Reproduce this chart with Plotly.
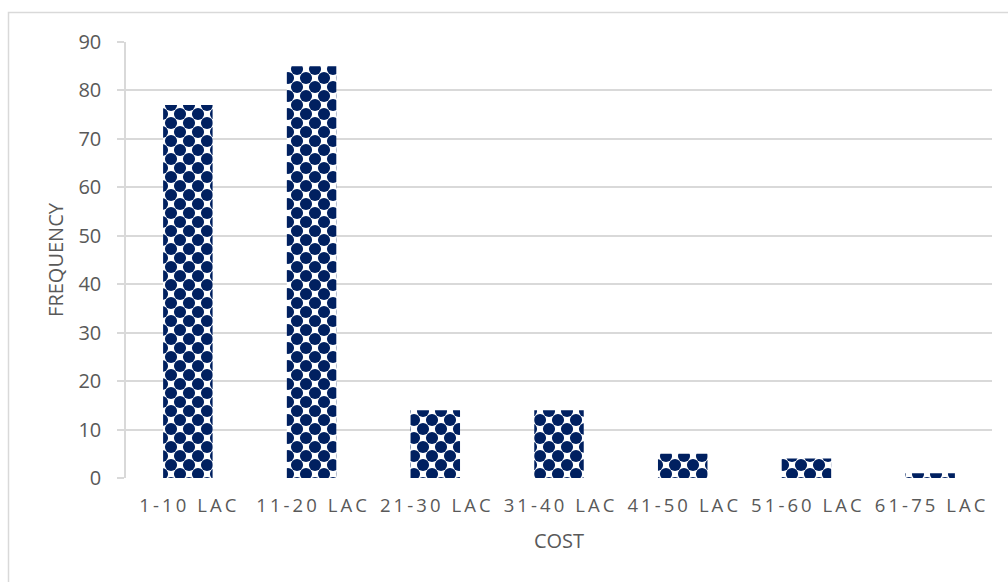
import plotly.graph_objects as go

# Data: number of projects per cost band
cost_bands = ["1-10 LAC", "11-20 LAC", "21-30 LAC", "31-40 LAC", "41-50 LAC", "51-60 LAC", "61-75 LAC"]
frequency = [77, 85, 14, 14, 5, 4, 1]
y_ticks = [0, 10, 20, 30, 40, 50, 60, 70, 80, 90]

NAVY = "#002060"
GRID = "#d9d9d9"
TEXT = "#595959"
FONT = "Open Sans"

W, H = 1008, 582
M_L, M_R, M_T, M_B = 126, 16, 42, 104
plot_w = W - M_L - M_R
plot_h = H - M_T - M_B
n = len(cost_bands)
cat_px = plot_w / n
y_max = 90

TILE = 18            # pattern tile size (px)
HALF = TILE / 2      # offset of the second dot lattice
SOLIDITY = 0.36


def spaced(label):
    """Letter-spaced tick label."""
    return "\u2009".join(label)


fig = go.Figure()

# Base lattice of dots on a white bar
fig.add_trace(go.Bar(
    x=cost_bands, y=frequency, width=0.4, uid="lattice_a",
    marker=dict(
        color="white",
        line=dict(width=0),
        pattern=dict(shape=".", fgcolor=NAVY, bgcolor="white",
                     size=TILE, solidity=SOLIDITY, fillmode="replace"),
    ),
    hoverinfo="skip", showlegend=False,
    xaxis="x", yaxis="y",
))

# Second lattice, offset by half a tile, completes the staggered dot pattern
fig.add_trace(go.Bar(
    x=cost_bands, y=frequency, width=0.4, uid="lattice_b",
    marker=dict(
        color="rgba(0,0,0,0)",
        line=dict(width=0),
        pattern=dict(shape=".", fgcolor=NAVY, bgcolor="rgba(0,0,0,0)",
                     size=TILE, solidity=SOLIDITY, fillmode="replace"),
    ),
    hoverinfo="skip", showlegend=False,
    xaxis="x2", yaxis="y2",
))


def px_to_paper_x(px):
    return (px - M_L) / plot_w


def px_to_paper_y(py):
    return (H - M_B - py) / plot_h


# Chart frame
fig.add_shape(
    type="rect", xref="paper", yref="paper",
    x0=px_to_paper_x(8.5), x1=px_to_paper_x(W + 10),
    y0=px_to_paper_y(H + 10), y1=px_to_paper_y(12.5),
    line=dict(color=GRID, width=1.5), fillcolor="rgba(0,0,0,0)", layer="below",
)

fig.update_layout(
    width=W, height=H,
    margin=dict(l=M_L, r=M_R, t=M_T, b=M_B, pad=0),
    paper_bgcolor="white", plot_bgcolor="rgba(0,0,0,0)",
    font=dict(family=FONT, color=TEXT),
    bargap=0.6,
    xaxis=dict(
        domain=[0, 1], type="category",
        categoryorder="array", categoryarray=cost_bands,
        range=[-0.5, n - 0.5],
        tickmode="array", tickvals=cost_bands,
        ticktext=[spaced(c) for c in cost_bands],
        tickfont=dict(size=18.5, color=TEXT, family=FONT),
        ticks="", showgrid=False, zeroline=False, showline=False,
        ticklabelstandoff=14,
        title=dict(text="COST", font=dict(size=20, color=TEXT, family=FONT), standoff=18),
        automargin=False,
    ),
    yaxis=dict(
        domain=[0, 1], range=[0, y_max],
        tickmode="array", tickvals=y_ticks,
        tickfont=dict(size=20, color=TEXT, family=FONT),
        showgrid=True, gridcolor=GRID, gridwidth=1.5,
        zeroline=False,
        showline=True, linecolor=GRID, linewidth=1.5,
        ticks="outside", ticklen=7, tickcolor=GRID, tickwidth=1.5,
        ticklabelstandoff=12,
        title=dict(text="FREQUENCY", font=dict(size=20, color=TEXT, family=FONT), standoff=9),
        automargin=False,
    ),
    xaxis2=dict(
        domain=[HALF / plot_w, 1], type="category",
        categoryorder="array", categoryarray=cost_bands,
        range=[-0.5 + HALF / cat_px, n - 0.5],
        visible=False, anchor="y2",
    ),
    yaxis2=dict(
        domain=[0, 1 - HALF / plot_h],
        range=[0, y_max * (plot_h - HALF) / plot_h],
        visible=False, anchor="x2",
    ),
)

fig.write_html("out.html")
